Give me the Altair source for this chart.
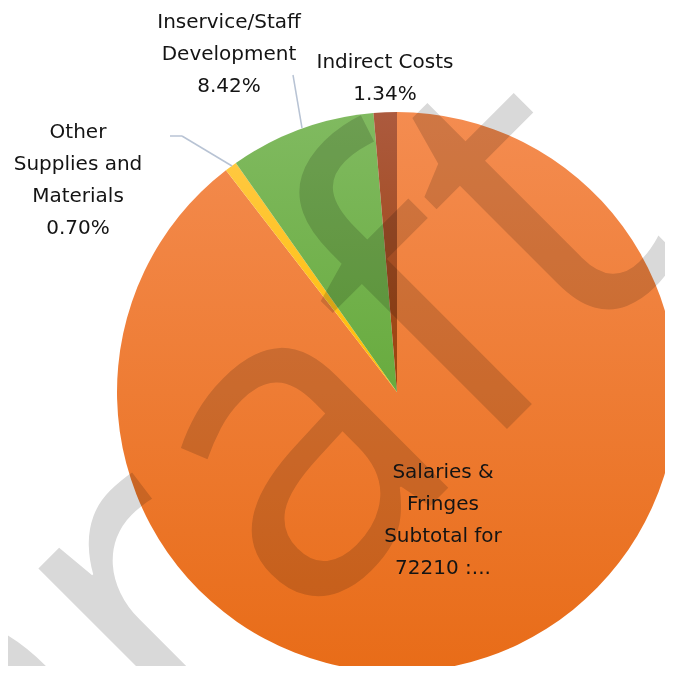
import altair as alt
import pandas as pd

# ---- data ----
categories = [
    "Salaries & Fringes Subtotal for 72210 :...",
    "Other Supplies and Materials",
    "Inservice/Staff Development",
    "Indirect Costs",
]
percents = [89.54, 0.70, 8.42, 1.34]
label_lines = [
    ["Salaries &", "Fringes", "Subtotal for", "72210 :..."],
    ["Other", "Supplies and", "Materials"],
    ["Inservice/Staff", "Development"],
    ["Indirect Costs"],
]
show_percent = [False, True, True, True]
watermark_text = ["Draft"]

labels = []
for lines, p, sp in zip(label_lines, percents, show_percent):
    l = list(lines)
    if sp:
        l.append(f"{p:.2f}%")
    labels.append("\n".join(l))

df = pd.DataFrame({
    "category": categories,
    "pct": percents,
    "order": list(range(len(categories))),
    "label": labels,
})

W, H = 657, 658
CX, CY, R = 389, 384, 280


def grad(top, bottom):
    return alt.LinearGradient(
        gradient="linear",
        stops=[alt.GradientStop(color=top, offset=0), alt.GradientStop(color=bottom, offset=1)],
        x1=0, x2=0, y1=0, y2=1,
    )


fills = [
    grad("#F48C50", "#E86C18"),
    grad("#FFC840", "#FFBD00"),
    grad("#80BA60", "#68AB3E"),
    grad("#AC5A3E", "#9C420A"),
]

base = (
    alt.Chart(df)
    .transform_window(cum="sum(pct)", sort=[alt.SortField("order")], frame=[None, 0])
    .transform_calculate(start="datum.cum - datum.pct")
)

theta_scale = alt.Scale(domain=[0, 100], range=[0, 6.283185307179586])

arcs = []
for cat, f in zip(categories, fills):
    arcs.append(
        base.transform_filter(alt.datum.category == cat)
        .mark_arc(radius=R, fill=f, strokeWidth=0)
        .encode(
            theta=alt.Theta("start:Q", scale=theta_scale),
            theta2="cum:Q",
            x=alt.value(CX),
            y=alt.value(CY),
        )
    )

watermark = (
    alt.Chart(pd.DataFrame({"wm": watermark_text}))
    .mark_text(
        font="Open Sans",
        fontSize=435,
        angle=315,
        align="center",
        baseline="alphabetic",
        color="#D9D9D9",
        blend="multiply",
    )
    .encode(text="wm:N", x=alt.value(312), y=alt.value(608))
)

leader_color = "#B8C3D4"
leaders = [
    alt.Chart(df.head(1)).mark_rule(color=leader_color, strokeWidth=1.5).encode(
        x=alt.value(162), x2=alt.value(174), y=alt.value(128), y2=alt.value(128)),
    alt.Chart(df.head(1)).mark_rule(color=leader_color, strokeWidth=1.5).encode(
        x=alt.value(174), x2=alt.value(224), y=alt.value(128), y2=alt.value(158)),
    alt.Chart(df.head(1)).mark_rule(color=leader_color, strokeWidth=1.5).encode(
        x=alt.value(285), x2=alt.value(294), y=alt.value(67), y2=alt.value(120)),
]

label_pos = [(435, 470), (70, 130), (221, 20), (377, 60)]
texts = []
for cat, (lx, ly) in zip(categories, label_pos):
    texts.append(
        alt.Chart(df)
        .transform_filter(alt.datum.category == cat)
        .mark_text(
            font="DejaVu Sans",
            fontSize=20,
            lineHeight=32,
            lineBreak="\n",
            align="center",
            baseline="alphabetic",
            color="#141414",
        )
        .encode(text="label:N", x=alt.value(lx), y=alt.value(ly))
    )

chart = (
    alt.layer(*arcs, watermark, *leaders, *texts)
    .properties(width=W, height=H, padding=0, autosize=alt.AutoSizeParams(type="none"))
    .configure_view(stroke=None)
)

chart.save("out.html", embed_options={"renderer": "svg", "actions": False})
